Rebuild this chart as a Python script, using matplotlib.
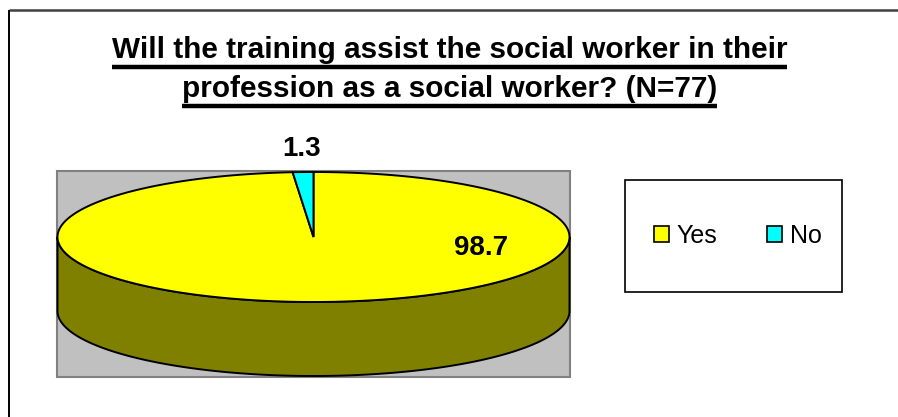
#! /usr/bin/env python3

#A program for plotting the training survey answer as an Excel style 3-D pie.

import matplotlib
matplotlib.use('Agg')
import matplotlib.pyplot as plt
import numpy as np
from matplotlib.patches import Polygon, Rectangle

#The survey data.
categories = ['Yes', 'No']
percents = [98.7, 1.3]
sliceColors = ['#FFFF00', '#00FFFF']
sideColors = ['#808000', '#008080']
titleLines = ['Will the training assist the social worker in their',
              'profession as a social worker? (N=77)']


def main() :
  plt.rcParams['font.family'] = ['Liberation Sans', 'DejaVu Sans']

  fig = plt.figure(figsize = (8.98, 4.17), dpi = 100)
  #One axes over the whole figure, working in pixel units (y runs down).
  ax = fig.add_axes([0, 0, 1, 1])
  ax.set_xlim(0, 898)
  ax.set_ylim(417, 0)
  ax.axis('off')

  #Chart area frame (only top and left show in the original).
  ax.plot([9, 898], [10, 10], color = '#404040', lw = 1.8, solid_capstyle = 'butt')
  ax.plot([9, 9], [10, 417], color = 'black', lw = 1.4, solid_capstyle = 'butt')

  #Gray plot area behind the pie.
  ax.add_patch(Rectangle((57, 171), 513, 206, facecolor = '#C0C0C0',
                         edgecolor = '#808080', lw = 1.5))

  #Pie geometry: centre, radii and thickness of the disc.
  cx, cy = 313.5, 237.0
  rx, ry = 256.0, 65.0
  depth = 74.0

  def rim(angles) :
    th = np.radians(angles)
    return np.column_stack([cx + rx*np.cos(th), cy - ry*np.sin(th)])

  #Slice angles, clockwise from 12 o'clock like Excel.
  total = float(sum(percents))
  spans = []
  start = 90.0
  for value in percents :
    end = start - 360.0*value/total
    spans.append((start, end))
    start = end
  #End of the for loop - for value in percents :

  #Draw the visible (front) part of the side first.
  for (start, end), scol in zip(spans, sideColors) :
    for k in range(-2, 2) :
      lo = max(end, 180.0 + 360.0*k)
      hi = min(start, 360.0 + 360.0*k)
      if hi > lo :
        top = rim(np.linspace(lo, hi, 200))
        bot = top[::-1] + [0, depth]
        ax.add_patch(Polygon(np.vstack([top, bot]), closed = True,
                             facecolor = scol, edgecolor = 'black', lw = 1.4))
    #End of the for loop - for k in range(-2, 2) :

  #Now the top faces of the slices.
  wedges = []
  for (start, end), col in zip(spans, sliceColors) :
    pts = np.vstack([[cx, cy], rim(np.linspace(start, end, 400))])
    w = Polygon(pts, closed = True, facecolor = col, edgecolor = 'black', lw = 1.4)
    ax.add_patch(w)
    wedges.append(w)
  #End of the for loop - for (start, end), col in zip(spans, sliceColors) :

  #Data labels.
  labelPos = [(481, 248), (302, 149)]
  for value, (lx, ly) in zip(percents, labelPos) :
    ax.text(lx, ly, '{0:.1f}'.format(value), ha = 'center', va = 'center',
            fontsize = 20, fontweight = 'bold', color = 'black')

  #Title, two underlined lines.
  baselines = [58, 97]
  titles = []
  for line, yb in zip(titleLines, baselines) :
    t = ax.text(449.5, yb, line, ha = 'center', va = 'baseline',
                fontsize = 21.4, fontweight = 'bold', color = 'black')
    titles.append((t, yb))

  fig.canvas.draw()
  renderer = fig.canvas.get_renderer()
  inv = ax.transData.inverted()
  for t, yb in titles :
    bb = t.get_window_extent(renderer)
    x0 = inv.transform((bb.x0, bb.y0))[0]
    x1 = inv.transform((bb.x1, bb.y0))[0]
    ax.plot([x0, x1], [yb + 9, yb + 9], color = 'black', lw = 3.2, solid_capstyle = 'butt')

  #Legend box.
  ax.add_patch(Rectangle((625, 180), 217, 112, facecolor = 'white',
                         edgecolor = 'black', lw = 1.2))
  leg = ax.legend(wedges, categories, loc = 'center', ncol = 2,
                  bbox_to_anchor = (738, 236), bbox_transform = ax.transData,
                  frameon = False, fontsize = 18, handlelength = 0.6,
                  handleheight = 0.6, handletextpad = 0.3, columnspacing = 2.0,
                  borderpad = 0)
  for h in leg.legend_handles :
    h.set_linewidth(1.2)

  fig.savefig('out.png', dpi = 100, facecolor = 'white')
  plt.close('all')

# Standard boilerplate to call the main() function to begin
# the program.
if __name__ == '__main__':
  main()
